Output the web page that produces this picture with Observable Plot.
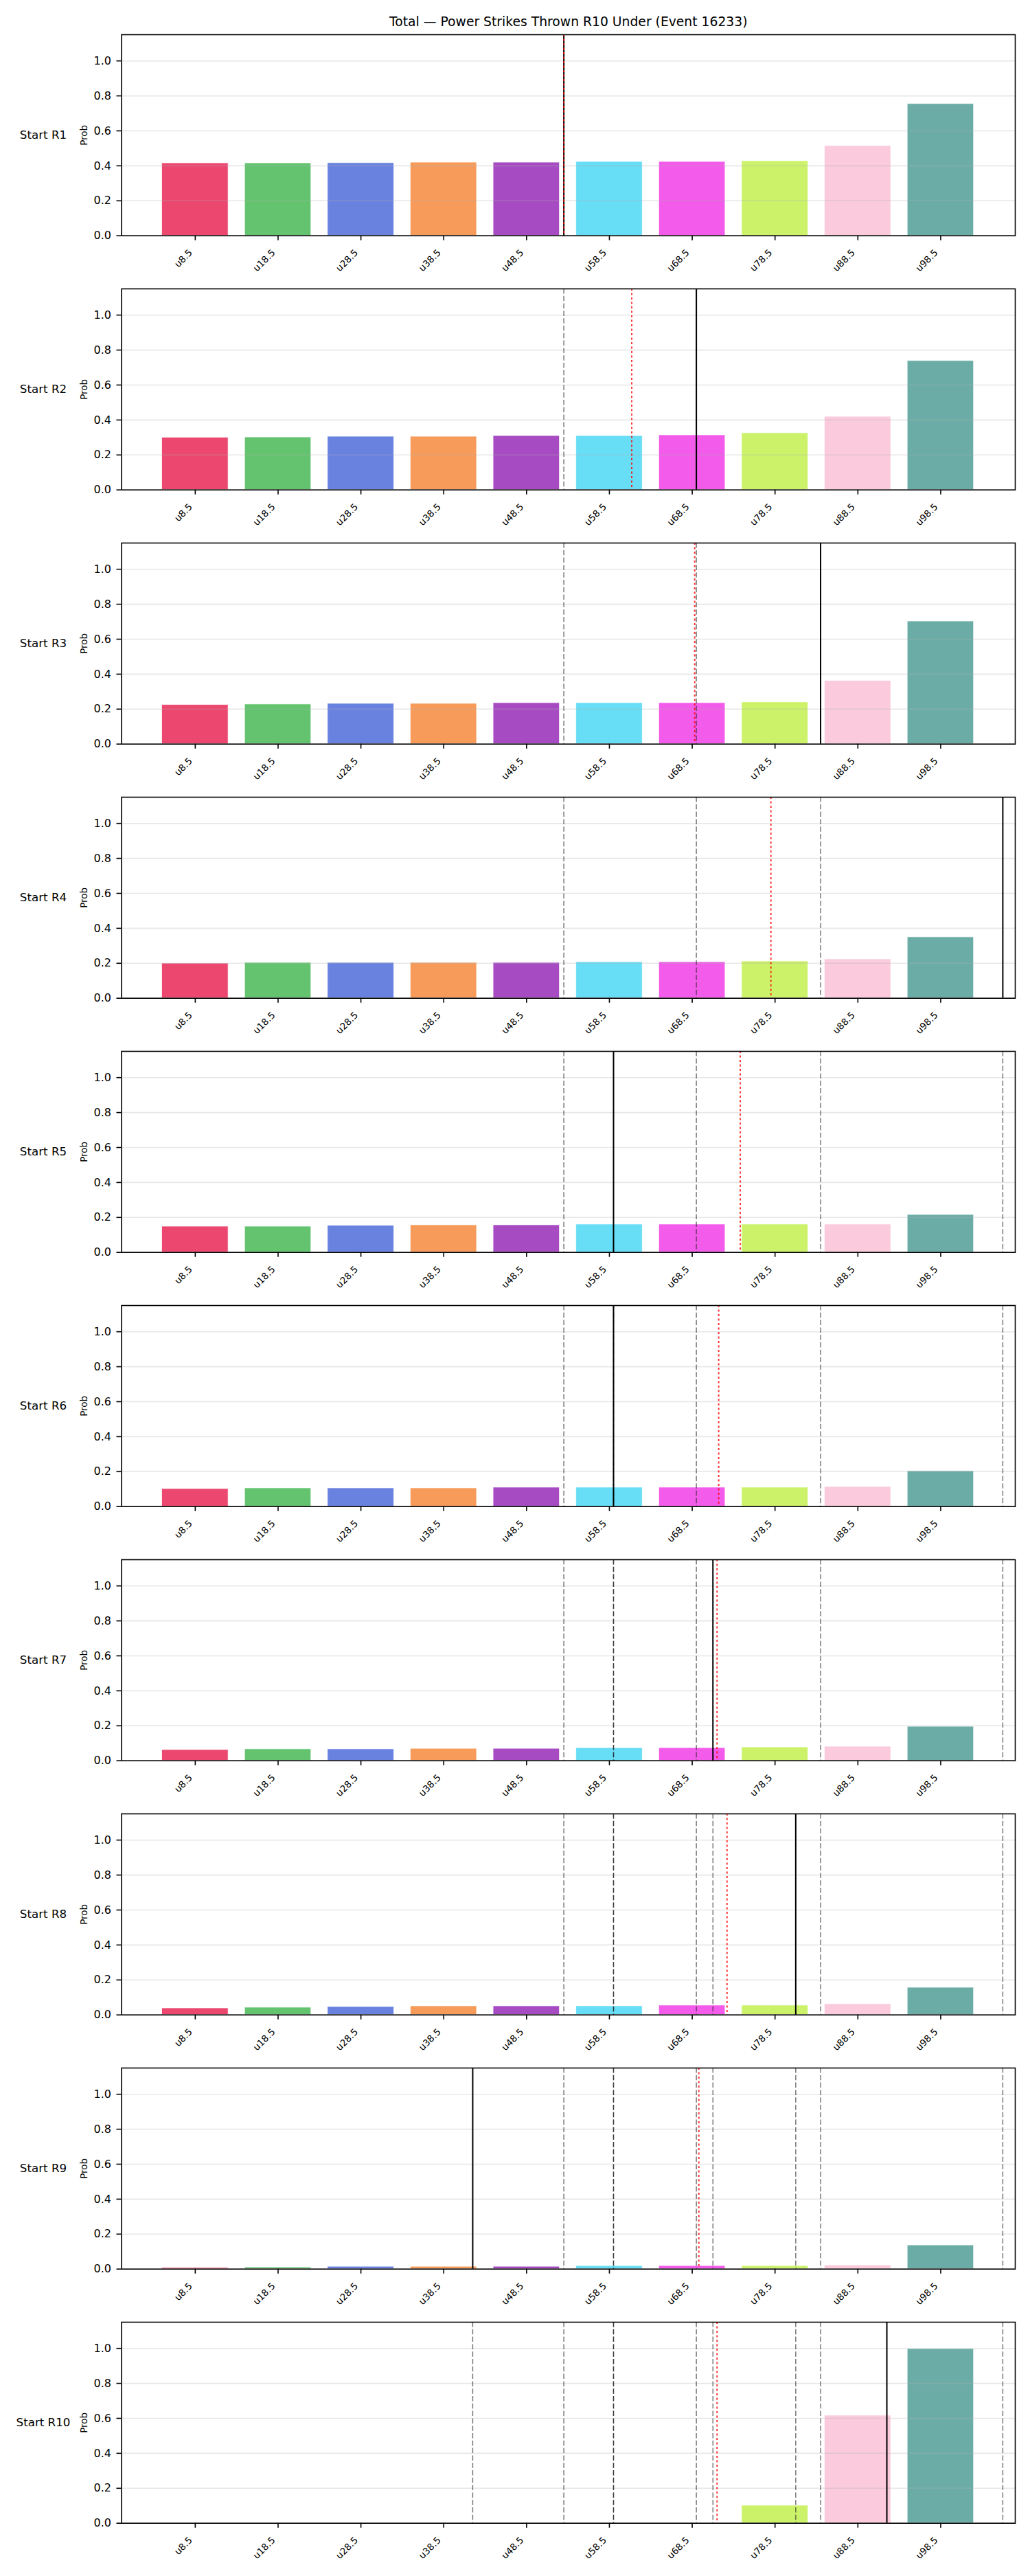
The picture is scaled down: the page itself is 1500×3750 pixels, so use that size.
<!DOCTYPE html>
<html>
<head>
<meta charset="utf-8">
<script src="https://cdn.jsdelivr.net/npm/d3@7"></script>
<script src="https://cdn.jsdelivr.net/npm/@observablehq/plot@0.6"></script>
<style>
  body { margin: 0; background: #ffffff; }
  #chart { width: 1500px; height: 3750px; position: relative; background: #ffffff; }
  #chart svg { display: block; overflow: visible; }
</style>
</head>
<body>
<div id="chart"></div>
<script>
const title = "Total — Power Strikes Thrown R10 Under (Event 16233)";
const thresholds = [8.5, 18.5, 28.5, 38.5, 48.5, 58.5, 68.5, 78.5, 88.5, 98.5];
const tickLabels = ["u8.5", "u18.5", "u28.5", "u38.5", "u48.5", "u58.5", "u68.5", "u78.5", "u88.5", "u98.5"];
const panelLabels = ["Start R1", "Start R2", "Start R3", "Start R4", "Start R5", "Start R6", "Start R7", "Start R8", "Start R9", "Start R10"];
const barColors = ["#e6194b", "#3cb44b", "#4363d8", "#f58231", "#911eb4", "#42d4f4", "#f032e6", "#bfef45", "#fabed4", "#469990"];
const yTicks = [0, 0.2, 0.4, 0.6, 0.8, 1.0];

const probR1  = [0.415, 0.415, 0.416, 0.419, 0.419, 0.423, 0.423, 0.427, 0.514, 0.754];
const probR2  = [0.299, 0.301, 0.305, 0.305, 0.309, 0.309, 0.313, 0.325, 0.419, 0.738];
const probR3  = [0.224, 0.227, 0.231, 0.231, 0.235, 0.235, 0.235, 0.239, 0.362, 0.702];
const probR4  = [0.199, 0.203, 0.203, 0.203, 0.203, 0.207, 0.207, 0.211, 0.223, 0.349];
const probR5  = [0.148, 0.148, 0.153, 0.156, 0.156, 0.160, 0.160, 0.160, 0.160, 0.215];
const probR6  = [0.101, 0.105, 0.105, 0.105, 0.109, 0.109, 0.109, 0.109, 0.113, 0.203];
const probR7  = [0.062, 0.066, 0.066, 0.069, 0.069, 0.073, 0.073, 0.077, 0.081, 0.195];
const probR8  = [0.038, 0.042, 0.046, 0.050, 0.050, 0.050, 0.054, 0.054, 0.062, 0.156];
const probR9  = [0.007, 0.010, 0.014, 0.014, 0.014, 0.018, 0.018, 0.018, 0.022, 0.136];
const probR10 = [0.000, 0.000, 0.000, 0.000, 0.000, 0.000, 0.000, 0.101, 0.616, 0.997];
const probs = [probR1, probR2, probR3, probR4, probR5, probR6, probR7, probR8, probR9, probR10];

// solid black line per panel (current total), red dotted line (running mean)
const currentLine = [53, 69, 84, 106, 59, 59, 71, 81, 42, 92];
const meanLine = [53, 61.2, 68.8, 78, 74.3, 71.7, 71.5, 72.7, 69.3, 71.5];

const chart = document.getElementById("chart");

probs.forEach((vals, k) => {
  const first = k === 0;
  const data = thresholds.map((t, i) => ({t, p: vals[i], c: barColors[i]}));
  const previous = currentLine.slice(0, k);
  const marks = [
    Plot.rect(data, {x1: d => d.t - 4, x2: d => d.t + 4, y1: 0, y2: "p", fill: "c", fillOpacity: 0.8, stroke: "white", strokeWidth: 0.8, strokeOpacity: 0.8}),
    Plot.gridY({ticks: yTicks, stroke: "#b0b0b0", strokeOpacity: 0.3, strokeWidth: 1.6}),
    Plot.ruleX(previous, {x: d => d, stroke: "#222222", strokeOpacity: 0.65, strokeWidth: 1.4, strokeDasharray: "7.5,3.3"}),
    Plot.ruleX([currentLine[k]], {x: d => d, stroke: "#000000", strokeWidth: 2}),
    Plot.ruleX([meanLine[k]], {x: d => d, stroke: "#ff0000", strokeOpacity: 0.8, strokeWidth: 2, strokeDasharray: "3,3.5"}),
    Plot.frame({stroke: "#000000", strokeWidth: 1.6}),
    Plot.axisY({ticks: yTicks, tickFormat: d3.format(".1f"), tickSize: 7, tickPadding: 8, fontSize: 16, strokeWidth: 1.6, label: null}),
    Plot.axisX({ticks: thresholds, tickSize: 7, tickFormat: () => "", strokeWidth: 1.6, label: null}),
    Plot.text(thresholds, {x: d => d, text: (d, i) => tickLabels[i], frameAnchor: "bottom", rotate: -45, textAnchor: "end", lineAnchor: "middle", dx: -6.5, dy: 22.5, fontSize: 13.5, fill: "black"}),
    Plot.text([panelLabels[k]], {text: d => d, frameAnchor: "left", dx: -114, textAnchor: "middle", fontSize: 16.7, fill: "black"}),
    Plot.text(["Prob"], {text: d => d, frameAnchor: "left", dx: -54, rotate: -90, textAnchor: "middle", fontSize: 13.5, fill: "black"})
  ];
  if (first) {
    marks.push(Plot.text([title], {text: d => d, frameAnchor: "top", dy: -12.5, lineAnchor: "bottom", fontSize: 18.75, fill: "black"}));
  }
  const plot = Plot.plot({
    width: 1500,
    height: first ? 400 : 370,
    marginLeft: 176.5,
    marginRight: 22,
    marginTop: first ? 50 : 20,
    marginBottom: 57.3,
    style: {fontFamily: "DejaVu Sans", background: "transparent", overflow: "visible", color: "black"},
    x: {type: "linear", domain: [-0.4, 107.5]},
    y: {domain: [0, 1.15]},
    color: {type: "identity"},
    marks
  });
  chart.appendChild(plot);
});
</script>
</body>
</html>
